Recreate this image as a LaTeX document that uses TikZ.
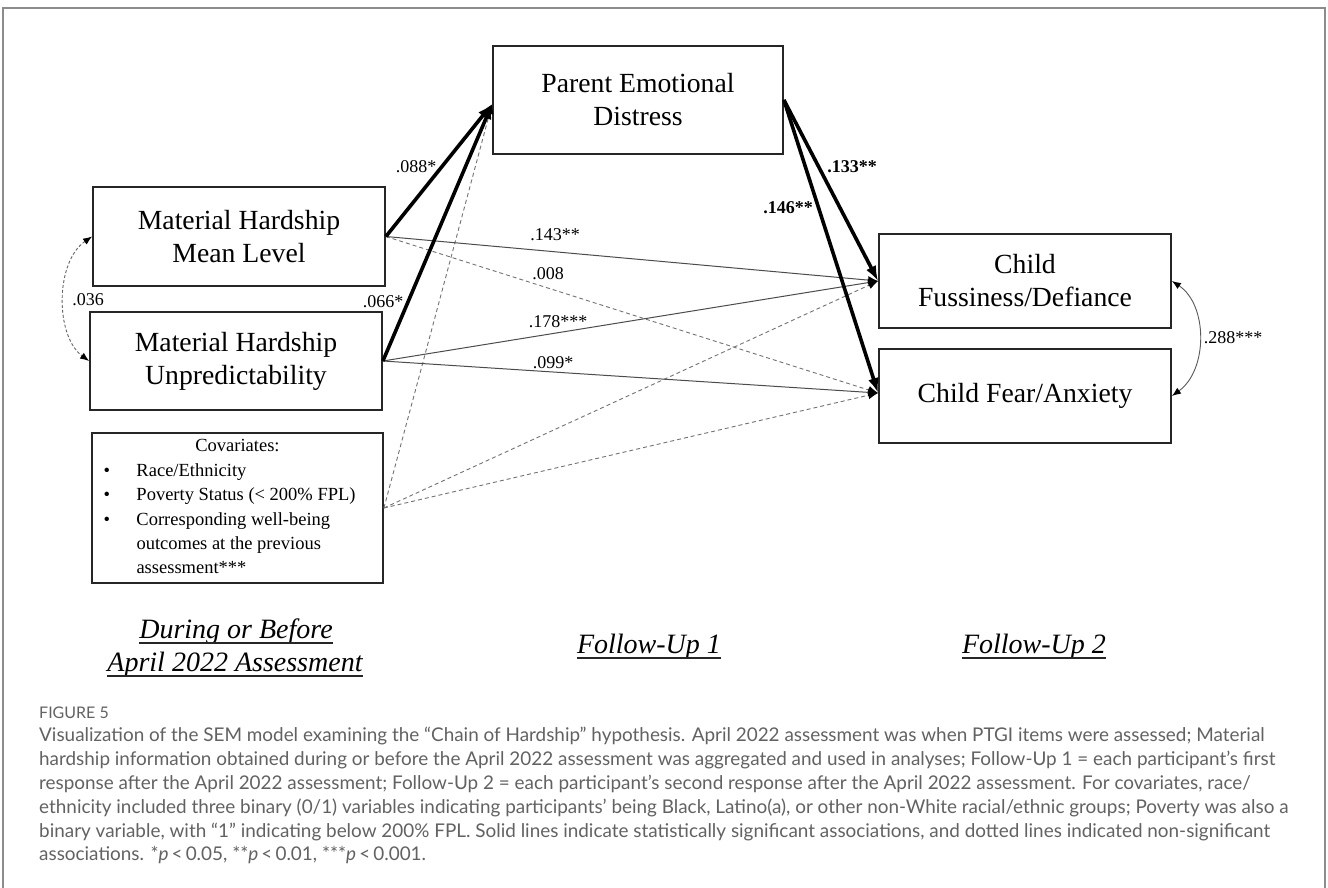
\documentclass[tikz,border=0pt]{standalone}
\usepackage{fontspec}
\setmainfont{Liberation Serif}
\newfontfamily\capfont{Lato}
\usetikzlibrary{arrows.meta,calc}
\definecolor{capgray}{HTML}{626262}
\definecolor{framegray}{HTML}{8C8C8C}
\begin{document}
\begin{tikzpicture}[x=1pt,y=-1pt,
  box/.style={draw=black!85, line width=1.8pt, minimum width=292pt, inner sep=0pt, align=center, font=\fontsize{27.7}{33}\selectfont},
  lbl/.style={font=\fontsize{18}{20}\selectfont, inner sep=0pt},
  blbl/.style={font=\fontsize{18}{20}\selectfont\bfseries, inner sep=0pt},
  strong/.style={line width=3.6pt, -{Latex[length=15pt,width=11pt]}},
  weak/.style={line width=1pt, draw=black!70, -{Latex[length=10pt,width=8pt,color=black]}},
  ns/.style={line width=0.9pt, draw=black!55, dash pattern=on 4pt off 3pt, -{Latex[length=10pt,width=8pt,color=black]}},
  nscurve/.style={line width=0.9pt, draw=black!60, dash pattern=on 3pt off 2pt, {Latex[length=9pt,width=7pt,color=black]}-{Latex[length=9pt,width=7pt,color=black]}},
  sigcurve/.style={line width=0.9pt, draw=black!65, {Latex[length=9pt,width=7pt,color=black]}-{Latex[length=9pt,width=7pt,color=black]}},
  phase/.style={font=\fontsize{28}{33}\selectfont\itshape, inner sep=0pt, anchor=base},
  uline/.style={line width=1.5pt, draw=black!85},
  captxt/.style={font=\capfont\fontsize{18.9}{22}\selectfont, text=capgray, inner sep=0pt, anchor=base west},
  frame/.style={draw=framegray, line width=1.4pt}
]
\fill[white] (0,0) rectangle (1328,888);
\useasboundingbox (0,0) rectangle (1328,888);
\draw[frame] (3,888) -- (3,8) -- (1325,8) -- (1325,888);

% boxes
\node[box, minimum width=290pt, minimum height=108pt] (P) at (638,100) {Parent Emotional\\Distress};
\node[box, minimum height=99pt] (ML) at (239,236.5) {Material Hardship\\Mean Level};
\node[box, minimum height=98pt] (MU) at (236,361) {Material Hardship\\Unpredictability};
\node[box, minimum width=291pt, minimum height=150pt, font=\fontsize{18.5}{24.4}\selectfont] (CV) at (237.5,508)
  {\begin{tabular}{@{}p{33pt}@{}p{235pt}@{}}\multicolumn{2}{@{}c@{}}{Covariates:}\\
   \textbullet & Race/Ethnicity\\
   \textbullet & Poverty Status (< 200\% FPL)\\
   \textbullet & Corresponding well-being\\
   & outcomes at the previous\\
   & assessment***\end{tabular}};
\node[box, minimum height=94pt] (CF) at (1025,281) {Child\\Fussiness/Defiance};
\node[box, minimum height=94pt] (CA) at (1025,396) {Child Fear/Anxiety};

\coordinate (Pin) at ($(P.west)+(0,4)$);
\coordinate (CAin) at ($(CA.west)+(0,-3)$);

% non-significant and thin paths
\draw[ns] (CV.east) -- (Pin);
\draw[ns] (ML.east) -- (CAin);
\draw[ns] (CV.east) -- (CF.west);
\draw[ns] (CV.east) -- (CAin);
\draw[weak] (ML.east) -- (CF.west);
\draw[weak] (MU.east) -- (CF.west);
\draw[weak] (MU.east) -- (CAin);

% strong paths
\draw[strong] (ML.east) -- (Pin);
\draw[strong] (MU.east) -- (Pin);
\draw[strong] (P.east) -- (CF.west);
\draw[strong] (P.east) -- (CAin);

% covariances
\draw[nscurve] (ML.west) .. controls (55,262) and (55,336) .. (MU.west);
\draw[sigcurve] (CF.east) .. controls (1208,305) and (1208,370) .. (CA.east);

% coefficient labels
\node[lbl] (l088) at (416,167) {.088*};
\node[lbl] (l066) at (383,302) {.066*};
\node[blbl] (l133) at (852,167) {.133**};
\node[blbl] (l146) at (788,208) {.146**};
\node[lbl] (l143) at (555,235) {.143**};
\node[lbl] (l008) at (548,274) {.008};
\node[lbl] (l178) at (558,322) {.178***};
\node[lbl] (l099) at (553,363) {.099*};
\node[lbl] (l036) at (88,300) {.036};
\node[lbl] (l288) at (1233,338) {.288***};

% phase labels
\node[phase] (b1) at (236,638) {During or Before};
\node[phase] (b2) at (235,671) {April 2022 Assessment};
\node[phase] (b3) at (649,653) {Follow-Up 1};
\node[phase] (b4) at (1034,653) {Follow-Up 2};
\foreach \n in {b1,b2,b3,b4}{
  \draw[uline] ([yshift=-5pt]\n.base west) -- ([yshift=-5pt]\n.base east);
}

% caption
\node[captxt, font=\capfont\fontsize{16}{18}\selectfont] (fig) at (39,718) {FIGURE 5};
\node[captxt] (c1) at (39,741) {Visualization of the SEM model examining the “Chain of Hardship” hypothesis. April 2022 assessment was when PTGI items were assessed; Material};
\node[captxt] (c2) at (39,765) {hardship information obtained during or before the April 2022 assessment was aggregated and used in analyses; Follow-Up 1 = each participant’s first};
\node[captxt] (c3) at (39,789) {response after the April 2022 assessment; Follow-Up 2 = each participant’s second response after the April 2022 assessment. For covariates, race/};
\node[captxt] (c4) at (39,813) {ethnicity included three binary (0/1) variables indicating participants’ being Black, Latino(a), or other non-White racial/ethnic groups; Poverty was also a};
\node[captxt] (c5) at (39,837) {binary variable, with “1” indicating below 200\% FPL. Solid lines indicate statistically significant associations, and dotted lines indicated non-significant};
\node[captxt] (c6) at (39,860) {associations. *\textit{p}\,<\,0.05, **\textit{p}\,<\,0.01, ***\textit{p}\,<\,0.001.};
\end{tikzpicture}
\end{document}
